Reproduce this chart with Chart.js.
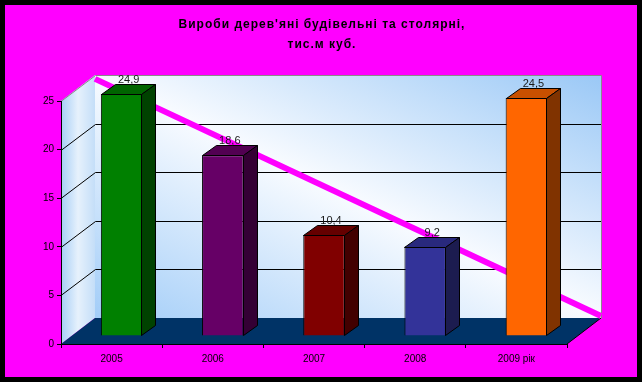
<!DOCTYPE html>
<html>
<head>
<meta charset="utf-8">
<script src="https://cdn.jsdelivr.net/npm/chart.js@4"></script>
<style>
  html, body { margin: 0; padding: 0; background: #000; }
  canvas { display: block; }
</style>
</head>
<body>
<canvas id="chart" width="642" height="382"></canvas>
<script>
// data
const titleLines = ["Вироби дерев'яні будівельні та столярні,", 'тис.м куб.'];
const years = ['2005', '2006', '2007', '2008', '2009 рік'];
const volumes = [24.9, 18.6, 10.4, 9.2, 24.5];
const trendPos = [0, 1];
const trendVals = [24.6, 0.2];

// bar colours: front, top, side
const frontColors = ['#008000', '#660066', '#800000', '#333399', '#ff6600'];
const topColors = ['#006400', '#520052', '#650000', '#29297d', '#c85000'];
const sideColors = ['#004200', '#340034', '#420000', '#1c1c50', '#803300'];

const DEPTH = { x: 34, y: -26 };     // back wall offset
const BAR_SHIFT = { x: 10, y: -8 };  // bars stand inside the floor
const BAR_DEPTH = { x: 14, y: -10 };

function poly(ctx, pts, fill, stroke) {
  ctx.beginPath();
  ctx.moveTo(pts[0][0], pts[0][1]);
  for (let i = 1; i < pts.length; i++) ctx.lineTo(pts[i][0], pts[i][1]);
  ctx.closePath();
  if (fill) { ctx.fillStyle = fill; ctx.fill(); }
  if (stroke) { ctx.strokeStyle = stroke; ctx.lineWidth = 1; ctx.stroke(); }
}

const scene = {
  id: 'scene',
  beforeDraw(chart) {
    const { ctx, width, height, chartArea: a } = chart;
    const y = chart.scales.y;
    const dx = DEPTH.x, dy = DEPTH.y;
    ctx.save();
    ctx.fillStyle = '#000';
    ctx.fillRect(0, 0, width, height);
    ctx.fillStyle = '#ff00ff';
    ctx.fillRect(5, 5, width - 10, height - 10);

    // title
    ctx.fillStyle = '#000';
    ctx.font = 'bold 12px "Liberation Sans", Arial, sans-serif';
    ctx.letterSpacing = '1px';
    ctx.textAlign = 'center';
    ctx.textBaseline = 'middle';
    titleLines.forEach((t, i) => ctx.fillText(t, width / 2 + 1, 25 + i * 20));
    ctx.letterSpacing = '0px';

    // back wall: blue corners (bottom-left, top-right), white along the other diagonal
    const bl = a.left + dx, br = a.right + dx, bt = a.top + dy, bb = a.bottom + dy;
    const W = br - bl, H = bb - bt;
    const cx = (bl + br) / 2, cy = (bt + bb) / 2;
    const k = W * H / (W * W + H * H);
    let g = ctx.createLinearGradient(cx - k * H, cy + k * W, cx + k * H, cy - k * W);
    g.addColorStop(0, '#a2cdf8');
    g.addColorStop(0.5, '#f8fbff');
    g.addColorStop(1, '#9ac8f6');
    poly(ctx, [[bl, bt], [br, bt], [br, bb], [bl, bb]], g, null);

    // side wall
    g = ctx.createLinearGradient(a.left, 0, bl, 0);
    g.addColorStop(0, '#a6cef6');
    g.addColorStop(0.5, '#e6f1fc');
    g.addColorStop(1, '#c4def8');
    poly(ctx, [[a.left, a.top], [bl, bt], [bl, bb], [a.left, a.bottom]], g, null);

    // grid lines on walls
    ctx.strokeStyle = '#000';
    ctx.lineWidth = 1;
    [5, 10, 15, 20].forEach(v => {
      const py = Math.round(y.getPixelForValue(v)) + 0.5;
      ctx.beginPath();
      ctx.moveTo(a.left, py);
      ctx.lineTo(bl + 0.5, py + dy);
      ctx.lineTo(br, py + dy);
      ctx.stroke();
    });
    // wall edges
    ctx.strokeStyle = '#8a8a8a';
    ctx.beginPath();
    ctx.moveTo(a.left, a.top + 0.5);
    ctx.lineTo(bl + 0.5, bt + 0.5);
    ctx.lineTo(br + 0.5, bt + 0.5);
    ctx.lineTo(br + 0.5, bb + 0.5);
    ctx.stroke();

    // floor
    poly(ctx, [[a.left, a.bottom], [bl, bb], [br, bb], [a.right, a.bottom]], '#003366', null);
    ctx.strokeStyle = '#000';
    ctx.beginPath();
    ctx.moveTo(a.right, a.bottom);
    ctx.lineTo(br, bb);
    ctx.stroke();
    ctx.restore();
  },
  beforeDatasetDraw(chart, args) {
    const ctx = chart.ctx;
    ctx.save();
    if (args.meta.type === 'line') ctx.translate(DEPTH.x, DEPTH.y);
    else ctx.translate(BAR_SHIFT.x, BAR_SHIFT.y);
  },
  afterDatasetDraw(chart, args) {
    const ctx = chart.ctx;
    if (args.meta.type === 'bar') {
      const bx = BAR_DEPTH.x, by = BAR_DEPTH.y;
      args.meta.data.forEach((el, i) => {
        const l = Math.round(el.x - el.width / 2) + 0.5;
        const r = Math.round(el.x + el.width / 2) - 0.5;
        const t = Math.round(el.y) + 0.5;
        const b = Math.round(el.base) - 0.5;
        poly(ctx, [[l, t], [r, t], [r + bx, t + by], [l + bx, t + by]], topColors[i], '#000');
        poly(ctx, [[r, t], [r + bx, t + by], [r + bx, b + by], [r, b]], sideColors[i], '#000');
        ctx.fillStyle = '#1a1a1a';
        ctx.font = '11px "Liberation Sans", Arial, sans-serif';
        ctx.textAlign = 'center';
        ctx.textBaseline = 'alphabetic';
        ctx.fillText(String(volumes[i]).replace('.', ','), el.x + bx / 2, el.y + by - 1);
      });
    }
    ctx.restore();
  }
};

const tickFont = { family: '"Liberation Sans", Arial, sans-serif', size: 10 };

new Chart(document.getElementById('chart'), {
  type: 'bar',
  data: {
    labels: years,
    datasets: [
      {
        type: 'line',
        data: trendPos.map((p, i) => ({ x: p, y: trendVals[i] })),
        xAxisID: 'xt',
        borderColor: '#ff00ff',
        borderWidth: 6,
        pointRadius: 0,
        order: 2,
        clip: false
      },
      {
        data: volumes,
        backgroundColor: frontColors,
        borderColor: '#000',
        borderWidth: 1,
        grouped: false,
        categoryPercentage: 1,
        barPercentage: 0.41,
        order: 1,
        clip: false
      }
    ]
  },
  options: {
    responsive: false,
    animation: false,
    devicePixelRatio: 1,
    layout: { padding: { top: 101 } },
    plugins: {
      legend: { display: false },
      tooltip: { enabled: false },
      title: { display: false }
    },
    scales: {
      x: {
        grid: { drawOnChartArea: false, tickLength: 4, color: '#000', offset: true },
        border: { color: '#000' },
        ticks: { font: tickFont, color: '#000', padding: 5 },
        afterFit(s) { s.height = 38; }
      },
      xt: { type: 'linear', min: 0, max: 1, offset: false, display: false },
      y: {
        min: 0,
        max: 25,
        ticks: { stepSize: 5, font: tickFont, color: '#000', padding: 3 },
        grid: { drawOnChartArea: false, tickLength: 4, color: '#000' },
        border: { color: '#000' },
        afterFit(s) { s.width = 61; }
      },
      pad: {
        type: 'linear',
        position: 'right',
        grid: { display: false },
        border: { display: false },
        ticks: { display: false },
        afterFit(s) { s.width = 75; }
      }
    }
  },
  plugins: [scene]
});
</script>
</body>
</html>
